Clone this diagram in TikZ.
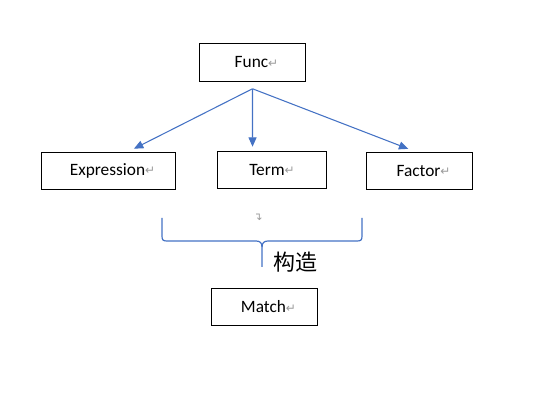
\documentclass[tikz,border=0pt]{standalone}
\usepackage{fontspec}
\setmainfont{Carlito}
\newfontfamily\cjkfont{Noto Sans CJK SC}
\newfontfamily\symfont{DejaVu Sans}
\usetikzlibrary{arrows.meta,positioning,calc}
\definecolor{wdblue}{HTML}{4472C4}
\definecolor{wdgray}{HTML}{9A9A9A}
\newcommand{\parmark}{{\symfont\fontsize{9}{10}\selectfont\color{wdgray}\raisebox{0.6pt}{↵}}}

\begin{document}
\begin{tikzpicture}[x=0.75pt, y=-0.75pt,
  box/.style={draw=black, line width=0.9pt, minimum height=28pt,
              font=\fontsize{13}{15}\selectfont, inner sep=0pt},
  link/.style={-{Triangle[length=7pt,width=6pt]}, wdblue, line width=0.8pt},
  brace/.style={wdblue, line width=0.9pt},
]
\useasboundingbox (0,0) rectangle (556,409);

%% ---- boxes ----
\node[box, minimum width=79pt] (func) at (252.5,62.5) {\hspace*{6pt}Func\parmark};
\node[box, minimum width=101pt] (expr) at (108.5,171) {\hspace*{6pt}Expression\parmark};
\node[box, minimum width=81.5pt] (term) at (272,170) {Term\parmark};
\node[box, minimum width=80pt] (fact) at (419.5,171) {\hspace*{6pt}Factor\parmark};
\node[box, minimum width=80pt] (match) at (264.5,307) {\hspace*{6pt}Match\parmark};

%% ---- arrows from Func ----
\coordinate (fork) at ([yshift=-5.25pt]func.south);
\draw[link, shorten >=5pt] (fork) -- ([xshift=14.6pt]expr.north);
\draw[link, shorten >=3pt] (fork) -- ([xshift=-14.6pt]term.north);
\draw[link, shorten >=6pt] (fork) -- ([xshift=-2.8pt]fact.north);

%% ---- brace ----
\draw[brace] (162,218) -- (162,236) .. controls (162,240) and (163,241) .. (167,241)
  -- (256,241) .. controls (260,241) and (262,243) .. (262,247) -- (262,267);
\draw[brace] (362,218) -- (362,236) .. controls (362,240) and (361,241) .. (357,241)
  -- (268,241) .. controls (264,241) and (262,243) .. (262,247);
\node[font=\symfont\fontsize{8}{9}\selectfont, text=wdgray] (mark) at (258,217) {↴};
\node[font=\cjkfont\fontsize{16.5}{18}\selectfont] (label) at (295.5,262) {构造};

\end{tikzpicture}
\end{document}
